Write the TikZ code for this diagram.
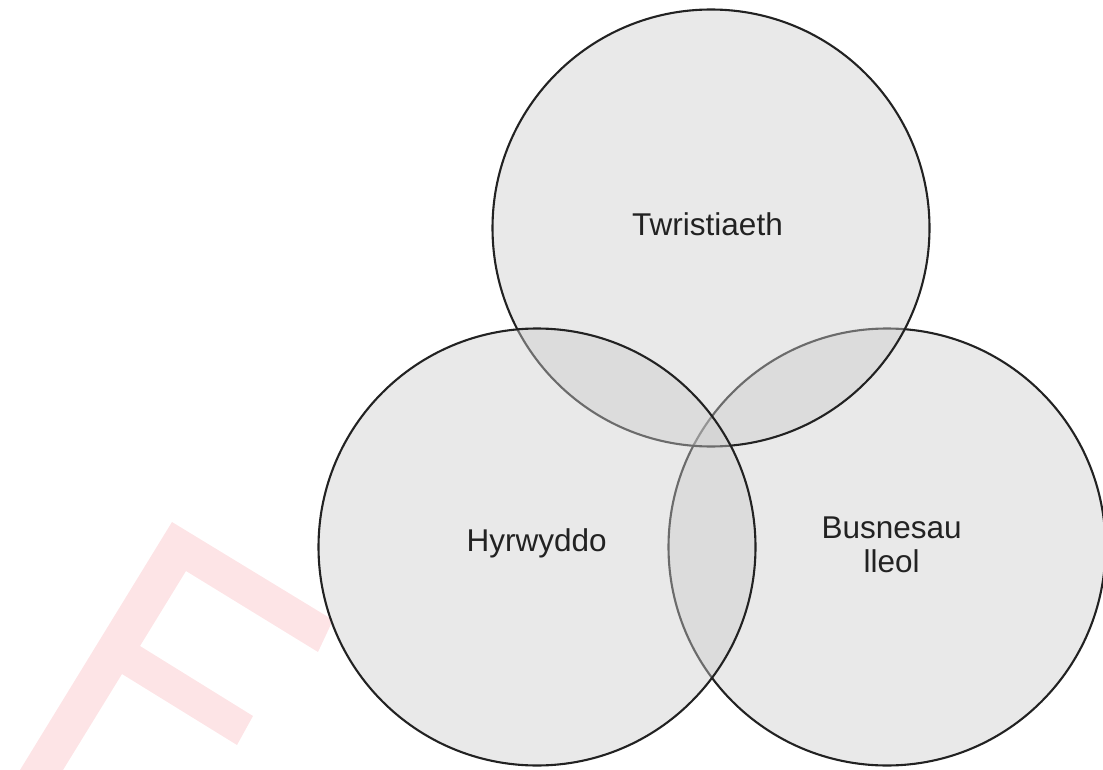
\documentclass[tikz,border=0pt]{standalone}
\usepackage{fontspec}
\setmainfont{Liberation Sans}
\definecolor{wmark}{HTML}{FDE4E6}
\definecolor{ring}{HTML}{222222}
\begin{document}
\begin{tikzpicture}[x=1pt,y=-1pt,
    venn/.style={circle, draw=ring, line width=2.1pt, fill=black!20,
      fill opacity=0.43, text opacity=1, minimum size=437pt, inner sep=0pt},
    lbl/.style={font=\fontsize{31.5}{34}\selectfont, text=ring, align=center, inner sep=0pt}]
  \useasboundingbox (0,0) rectangle (1103,770);
  % watermark
  \fill[wmark] (172,522) -- (333,620) -- (318,652) -- (186,571) -- (140,646)
    -- (253,716) -- (237,745) -- (122,674) -- (63,770) -- (20,770) -- cycle;
  % circles
  \node[venn] (lleol) at (887,547) {};
  \node[venn] (twr) at (711,228) {};
  \node[venn] (hyr) at (537,547) {};
  % labels
  \node[lbl, anchor=base] (twrtxt) at (707.5,235.7) {Twristiaeth};
  \node[lbl, anchor=base] (hyrtxt) at (536.7,551.7) {Hyrwyddo};
  \node[lbl] (lleoltxt) at (891.7,545) {Busnesau\\lleol};
\end{tikzpicture}
\end{document}
